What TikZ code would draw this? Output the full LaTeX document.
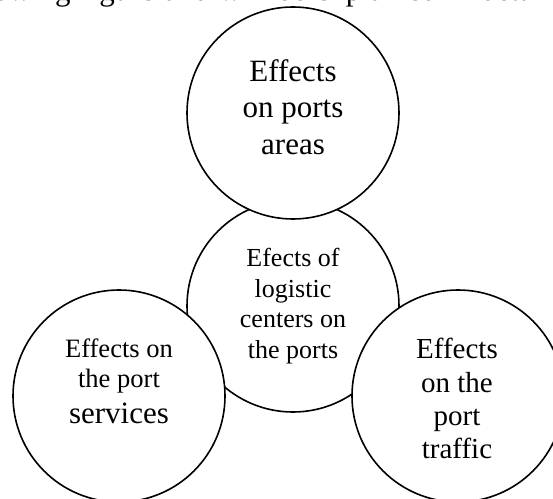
\documentclass[tikz,border=0pt]{standalone}
\usepackage{fontspec}
\setmainfont{Liberation Serif}
\begin{document}
\begin{tikzpicture}[x=0.75pt,y=-0.75pt,
  bubble/.style={circle,draw,fill=white,line width=1.2pt,minimum size=159pt,inner sep=0pt},
  caption/.style={align=center,inner sep=0pt,anchor=north}]
\useasboundingbox (0,0) rectangle (553,499);
\clip (0,0) rectangle (553,499);
% last line of the preceding paragraph, cut off at the top edge
\node[anchor=base west,inner sep=0pt,outer sep=0pt,font=\fontsize{23.25}{28}\selectfont] (prose) at (-50,0.3)
  {\makebox[450pt][s]{following figure and will be explained in detail}};
% central circle first, the three outer circles overlap it
\node[bubble] (hub) at (293,306) {};
\node[bubble] (areas) at (293,113) {};
\node[bubble] (services) at (119,396) {};
\node[bubble] (traffic) at (458,396) {};
% circle labels
\node[caption,font=\fontsize{19.5}{23}\selectfont] (hubtext) at (293,248)
  {Efects of\\logistic\\centers on\\the ports};
\node[caption,font=\fontsize{23.25}{27.4}\selectfont] (areastext) at (293,59)
  {Effects\\on ports\\areas};
\node[caption,font=\fontsize{19.9}{22.5}\selectfont] (servicestext) at (119,339)
  {Effects on\\the port\\[4.5pt]{\fontsize{23.25}{27}\selectfont services}};
\node[caption,font=\fontsize{21.75}{25}\selectfont] (traffictext) at (457,338)
  {Effects\\on the\\port\\traffic};
\end{tikzpicture}
\end{document}
